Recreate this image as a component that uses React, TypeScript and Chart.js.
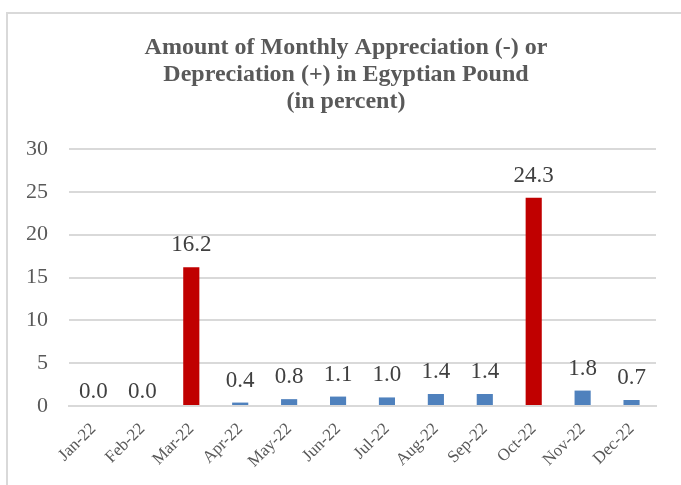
import React, { useEffect, useRef } from "react";
import { Chart, registerables } from "chart.js";

Chart.register(...registerables);

const categories = ["Jan-22", "Feb-22", "Mar-22", "Apr-22", "May-22", "Jun-22", "Jul-22", "Aug-22", "Sep-22", "Oct-22", "Nov-22", "Dec-22"];
const values = [0.0, 0.0, 16.2, 0.4, 0.8, 1.1, 1.0, 1.4, 1.4, 24.3, 1.8, 0.7];
const highlighted = ["Mar-22", "Oct-22"];
const titleLines = ["Amount of Monthly Appreciation (-) or", "Depreciation (+) in Egyptian Pound", "(in percent)"];
const yMin = 0;
const yMax = 30;
const yStep = 5;

const RED = "#C00000";
const BLUE = "#4F81BD";
const SERIF = "'Liberation Serif', 'Times New Roman', serif";

export default function App() {
  const ref = useRef<HTMLCanvasElement | null>(null);

  useEffect(() => {
    if (!ref.current) return;
    const titlePlugin = {
      id: "customTitle",
      afterDraw(chart: any) {
        const ctx = chart.ctx;
        ctx.save();
        ctx.font = `bold 24px ${SERIF}`;
        ctx.fillStyle = "#595959";
        ctx.textAlign = "center";
        ctx.textBaseline = "alphabetic";
        const baselines = [54, 81, 108];
        titleLines.forEach((t, i) => ctx.fillText(t, 346, baselines[i]));
        ctx.restore();
      },
    };
    const labelPlugin = {
      id: "barLabels",
      afterDatasetsDraw(chart: any) {
        const ctx = chart.ctx;
        const meta = chart.getDatasetMeta(0);
        ctx.save();
        ctx.font = `23px ${SERIF}`;
        ctx.fillStyle = "#404040";
        ctx.textAlign = "center";
        ctx.textBaseline = "alphabetic";
        meta.data.forEach((bar: any, i: number) => {
          const v = values[i];
          const off = v === 0 ? 8 : 16;
          ctx.fillText(v.toFixed(1), bar.x, bar.y - off);
        });
        ctx.restore();
      },
    };
    const chart = new Chart(ref.current, {
      type: "bar",
      data: {
        labels: categories,
        datasets: [
          {
            data: values,
            backgroundColor: categories.map((c) => (highlighted.includes(c) ? RED : BLUE)),
            categoryPercentage: 1,
            barPercentage: 0.33,
          },
        ],
      },
      options: {
        responsive: false,
        animation: false,
        devicePixelRatio: 1,
        layout: { padding: { top: 149, right: 25, left: 0, bottom: 0 } },
        plugins: { legend: { display: false }, tooltip: { enabled: false }, title: { display: false } },
        scales: {
          y: {
            min: yMin,
            max: yMax,
            ticks: { stepSize: yStep, font: { family: SERIF, size: 22 }, color: "#595959", padding: 21 },
            grid: { color: "#d9d9d9", lineWidth: 2, drawTicks: false },
            border: { display: false },
            afterFit: (s: any) => {
              s.width = 69;
            },
          },
          x: {
            ticks: { minRotation: 45, maxRotation: 45, font: { family: SERIF, size: 17 }, color: "#595959", padding: 13 },
            grid: { display: false, drawTicks: false },
            border: { display: true, color: "#d9d9d9", width: 2 },
            afterFit: (s: any) => {
              s.height = 79;
            },
          },
        },
      },
      plugins: [titlePlugin, labelPlugin],
    });
    return () => chart.destroy();
  }, []);

  return (
    <div style={{ position: "fixed", left: 0, top: 0, width: 681, height: 485, background: "#fff", overflow: "hidden" }}>
      <div
        style={{
          position: "absolute",
          left: 6,
          top: 12,
          right: -10,
          bottom: -10,
          borderLeft: "2px solid #d9d9d9",
          borderTop: "2px solid #d9d9d9",
        }}
      />
      <canvas ref={ref} width={681} height={485} style={{ position: "absolute", left: 0, top: 0 }} />
    </div>
  );
}
